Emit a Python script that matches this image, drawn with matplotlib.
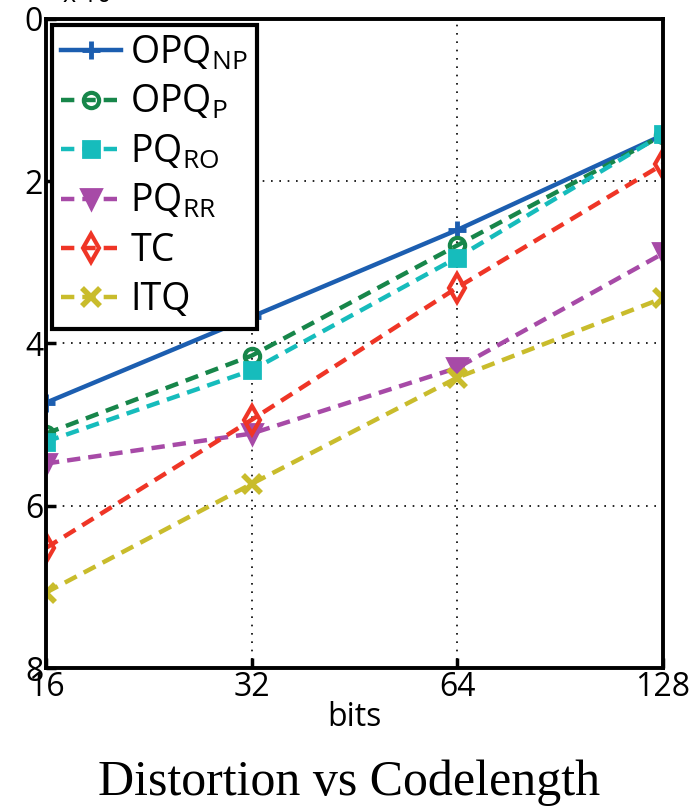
import matplotlib
matplotlib.use('Agg')
import matplotlib.pyplot as plt

# codelength (bits)
bits = [16, 32, 64, 128]

# distortion values (x 10^4)
opq_np = [4.73, 3.67, 2.60, 1.43]
opq_p = [5.11, 4.15, 2.79, 1.43]
pq_ro = [5.21, 4.33, 2.94, 1.42]
pq_rr = [5.48, 5.11, 4.30, 2.89]
tc = [6.52, 4.94, 3.31, 1.79]
itq = [7.07, 5.73, 4.42, 3.44]

rotulos = [r'OPQ$_{\mathrm{NP}}$', r'OPQ$_{\mathrm{P}}$', r'PQ$_{\mathrm{RO}}$',
           r'PQ$_{\mathrm{RR}}$', 'TC', 'ITQ']

plt.rcParams['font.family'] = ['Open Sans', 'DejaVu Sans']
plt.rcParams['mathtext.fontset'] = 'custom'
plt.rcParams['mathtext.rm'] = 'Open Sans'

fig = plt.figure(figsize=(6.99, 8.11), dpi=100)
ax = fig.add_axes([0.0658, 0.1763, 0.8827, 0.8003])

lw = 3.2
ax.plot(bits, opq_np, '-', color='#1c5eb0', lw=lw, marker='+', ms=13, mew=3.5, label=rotulos[0])
ax.plot(bits, opq_p, '--', color='#17864a', lw=lw, marker='o', ms=11, mew=3, mfc='none', label=rotulos[1])
ax.plot(bits, pq_ro, '--', color='#16bcbc', lw=lw, marker='s', ms=11, mew=2, label=rotulos[2])
ax.plot(bits, pq_rr, '--', color='#a74aa7', lw=lw, marker='v', ms=14, mew=2, label=rotulos[3])
ax.plot(bits, tc, '--', color='#ef3526', lw=lw, marker='d', ms=14, mew=3, mfc='none', label=rotulos[4])
ax.plot(bits, itq, '--', color='#c9bc2c', lw=lw, marker='x', ms=13, mew=4, label=rotulos[5])

for l in ax.get_lines():
    l.set_dashes([3, 1.8]) if l.get_linestyle() == '--' else None

ax.set_xscale('log', base=2)
ax.set_xlim(16, 128)
ax.set_ylim(8, 0)
ax.set_xticks(bits)
ax.set_xticklabels([str(b) for b in bits])
ax.set_yticks([0, 2, 4, 6, 8])
ax.minorticks_off()
ax.grid(True, color='black', linestyle=(0, (1, 4)), linewidth=1.2)

ax.tick_params(direction='in', length=7, width=2.5, labelsize=23, pad=2)
for s in ax.spines.values():
    s.set_linewidth(2.8)

ax.set_xlabel('bits', fontsize=23, labelpad=-2)

leg = ax.legend(loc='upper left', bbox_to_anchor=(0.0, 1.0), borderaxespad=0.15,
                fontsize=27, fancybox=False, framealpha=1, edgecolor='black',
                handlelength=1.6, handletextpad=0.25, labelspacing=0.3,
                borderpad=0.25)
leg.get_frame().set_linewidth(3)

fig.text(0.5, 0.035, 'Distortion vs Codelength', ha='center', va='center',
         fontsize=36, family='Liberation Serif')
fig.text(0.09, 1.005, r'x 10', ha='left', va='center', fontsize=18)

plt.savefig('out.png', dpi=100)
